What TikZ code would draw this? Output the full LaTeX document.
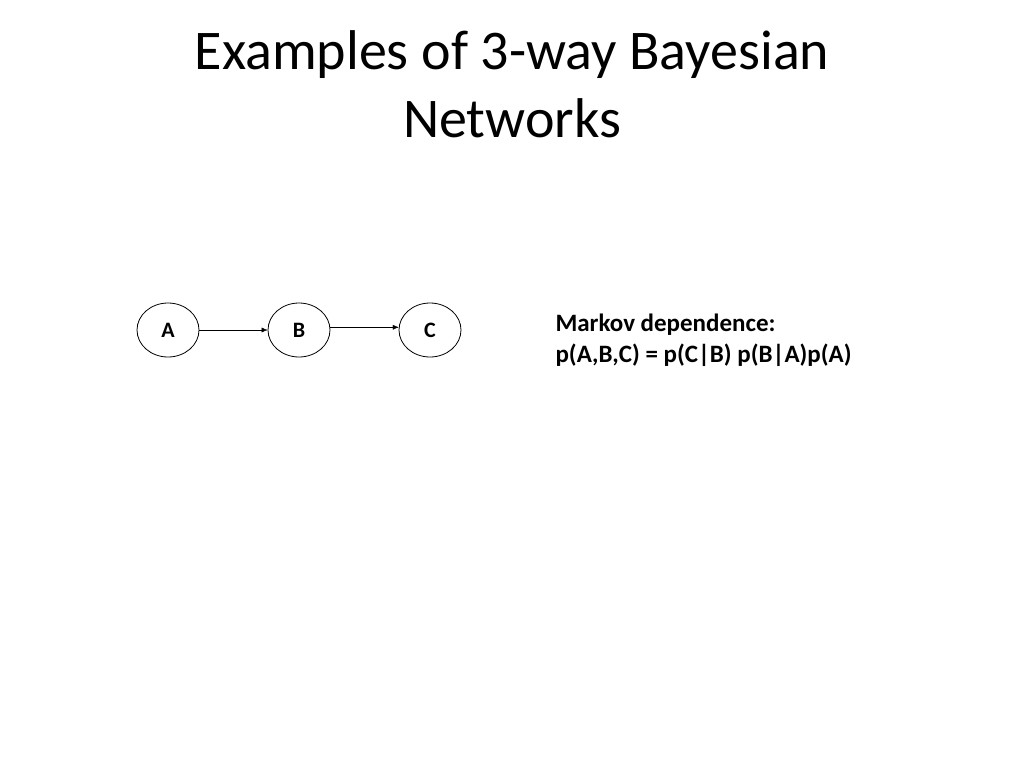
\documentclass[tikz,border=0pt]{standalone}
\usepackage{fontspec}
\setmainfont{Carlito}
\usetikzlibrary{shapes.geometric,arrows.meta}
\tikzset{var/.style = {ellipse, draw, thick, minimum width=62pt, minimum height=54pt, inner sep=0pt, font=\fontsize{22}{24}\selectfont\bfseries}}

\begin{document}
\begin{tikzpicture}[x=1pt, y=-1pt]
   \useasboundingbox (0,0) rectangle (1024,768);
   % Title
   \node [align=center, font=\fontsize{56}{68}\selectfont] (title) at (512,84) {Examples of 3-way Bayesian\\Networks};
   % Place nodes
   \node [var] (a) at (168,330) {A};
   \node [var] (b) at (299,330) {B};
   \node [var] (c) at (430,330) {C};
   \draw [-{Latex[length=6pt,width=5pt]}] (a) -- (b);
   \draw [-{Latex[length=6pt,width=5pt]}] (b.5) -- (c.175);
   \node [anchor=north west, align=left, font=\fontsize{25}{31}\selectfont\bfseries] (txt) at (552,310)
      {Markov dependence:\\p(A,B,C) = p(C|B) p(B|A)p(A)};
\end{tikzpicture}
\end{document}
